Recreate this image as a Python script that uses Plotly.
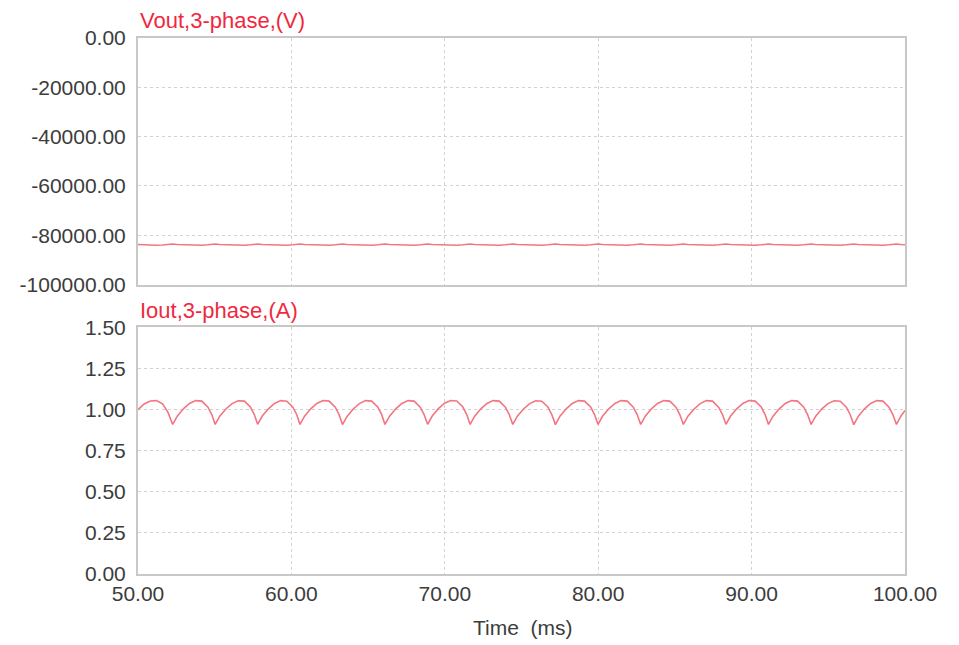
import plotly.graph_objects as go
from plotly.subplots import make_subplots

# ---- data ----
time_ms = [
    50.00, 50.40, 50.80, 51.20, 51.60, 51.95,
    52.26, 52.56, 52.96, 53.36, 53.76, 54.16, 54.56, 54.81,
    55.03, 55.33, 55.73, 56.13, 56.53, 56.93, 57.33, 57.58,
    57.80, 58.10, 58.50, 58.90, 59.30, 59.70, 60.10, 60.35,
    60.56, 60.86, 61.26, 61.66, 62.06, 62.46, 62.86, 63.11,
    63.33, 63.63, 64.03, 64.43, 64.83, 65.23, 65.63, 65.88,
    66.10, 66.40, 66.80, 67.20, 67.60, 68.00, 68.40, 68.65,
    68.88, 69.18, 69.58, 69.98, 70.38, 70.78, 71.18, 71.43,
    71.65, 71.95, 72.35, 72.75, 73.15, 73.55, 73.95, 74.20,
    74.43, 74.73, 75.13, 75.53, 75.93, 76.33, 76.73, 76.98,
    77.21, 77.51, 77.91, 78.31, 78.71, 79.11, 79.51, 79.76,
    79.99, 80.29, 80.69, 81.09, 81.49, 81.89, 82.29, 82.54,
    82.77, 83.07, 83.47, 83.87, 84.27, 84.67, 85.07, 85.32,
    85.55, 85.85, 86.25, 86.65, 87.05, 87.45, 87.85, 88.10,
    88.33, 88.63, 89.03, 89.43, 89.83, 90.23, 90.63, 90.88,
    91.10, 91.40, 91.80, 92.20, 92.60, 93.00, 93.40, 93.65,
    93.88, 94.18, 94.58, 94.98, 95.38, 95.78, 96.18, 96.43,
    96.66, 96.96, 97.36, 97.76, 98.16, 98.56, 98.96, 99.21,
    99.44, 99.74, 100.00,
]

iout_a = [
    1.000, 1.035, 1.053, 1.055, 1.035, 0.985,
    0.910, 0.960, 1.005, 1.038, 1.055, 1.052, 1.015, 0.970,
    0.910, 0.960, 1.004, 1.037, 1.054, 1.052, 1.016, 0.970,
    0.911, 0.961, 1.005, 1.038, 1.055, 1.051, 1.015, 0.969,
    0.910, 0.960, 1.005, 1.038, 1.056, 1.052, 1.015, 0.970,
    0.909, 0.959, 1.004, 1.037, 1.055, 1.052, 1.016, 0.971,
    0.910, 0.960, 1.005, 1.038, 1.055, 1.052, 1.015, 0.970,
    0.911, 0.961, 1.006, 1.039, 1.056, 1.053, 1.016, 0.970,
    0.910, 0.960, 1.005, 1.038, 1.055, 1.052, 1.015, 0.970,
    0.910, 0.960, 1.004, 1.037, 1.054, 1.051, 1.015, 0.969,
    0.909, 0.960, 1.005, 1.038, 1.055, 1.052, 1.016, 0.970,
    0.910, 0.961, 1.005, 1.038, 1.055, 1.052, 1.015, 0.970,
    0.910, 0.960, 1.005, 1.038, 1.055, 1.052, 1.015, 0.970,
    0.910, 0.960, 1.004, 1.037, 1.055, 1.052, 1.015, 0.970,
    0.911, 0.961, 1.005, 1.038, 1.056, 1.052, 1.016, 0.970,
    0.910, 0.960, 1.005, 1.038, 1.055, 1.052, 1.015, 0.970,
    0.910, 0.960, 1.005, 1.037, 1.054, 1.051, 1.015, 0.969,
    0.909, 0.960, 1.005, 1.038, 1.055, 1.052, 1.015, 0.970,
    0.910, 0.962, 0.995,
]

vout_v = [
    -83800, -83950, -84050, -84100, -84000, -83800,
    -83600, -83750, -83900, -84050, -84100, -84050, -83900, -83750,
    -83600, -83750, -83900, -84050, -84100, -84050, -83900, -83750,
    -83600, -83750, -83900, -84050, -84100, -84050, -83900, -83750,
    -83600, -83750, -83900, -84050, -84100, -84050, -83900, -83750,
    -83600, -83750, -83900, -84050, -84100, -84050, -83900, -83750,
    -83600, -83750, -83900, -84050, -84100, -84050, -83900, -83750,
    -83600, -83750, -83900, -84050, -84100, -84050, -83900, -83750,
    -83600, -83750, -83900, -84050, -84100, -84050, -83900, -83750,
    -83600, -83750, -83900, -84050, -84100, -84050, -83900, -83750,
    -83600, -83750, -83900, -84050, -84100, -84050, -83900, -83750,
    -83600, -83750, -83900, -84050, -84100, -84050, -83900, -83750,
    -83600, -83750, -83900, -84050, -84100, -84050, -83900, -83750,
    -83600, -83750, -83900, -84050, -84100, -84050, -83900, -83750,
    -83600, -83750, -83900, -84050, -84100, -84050, -83900, -83750,
    -83600, -83750, -83900, -84050, -84100, -84050, -83900, -83750,
    -83600, -83750, -83900, -84050, -84100, -84050, -83900, -83750,
    -83600, -83750, -83900, -84050, -84100, -84050, -83900, -83750,
    -83600, -83800, -83900,
]

x_ticks = [50, 60, 70, 80, 90, 100]
x_labels = ["50.00", "60.00", "70.00", "80.00", "90.00", "100.00"]
v_ticks = [0, -20000, -40000, -60000, -80000, -100000]
v_labels = ["0.00", "-20000.00", "-40000.00", "-60000.00", "-80000.00", "-100000.00"]
i_ticks = [0, 0.25, 0.5, 0.75, 1.0, 1.25, 1.5]
i_labels = ["0.00", "0.25", "0.50", "0.75", "1.00", "1.25", "1.50"]

FONT = "Liberation Sans, Arial, sans-serif"
LINE_COL = "#f27682"
TITLE_COL = "#f0283f"
FRAME_COL = "#c8c8c8"
GRID_COL = "#d2d2d2"
TICK_COL = "#3c3c3c"

fig = make_subplots(rows=2, cols=1, shared_xaxes=True, vertical_spacing=0.0802)

fig.add_trace(go.Scatter(x=time_ms, y=vout_v, mode="lines",
                         line=dict(color=LINE_COL, width=1.5),
                         showlegend=False), row=1, col=1)
fig.add_trace(go.Scatter(x=time_ms, y=iout_a, mode="lines",
                         line=dict(color=LINE_COL, width=1.6),
                         showlegend=False), row=2, col=1)

axis_common = dict(showline=True, mirror=True, linecolor=FRAME_COL, linewidth=2,
                   showgrid=True, gridcolor=GRID_COL, griddash="dot", gridwidth=1,
                   zeroline=False, ticks="", automargin=False,
                   tickfont=dict(family=FONT, size=21, color=TICK_COL))

fig.update_xaxes(range=[50, 100], tickvals=x_ticks, ticktext=x_labels,
                 ticklabelstandoff=0, **axis_common)
fig.update_xaxes(showticklabels=False, row=1, col=1)
fig.update_xaxes(showticklabels=True, row=2, col=1)
fig.update_yaxes(range=[-100000, 0], tickvals=v_ticks, ticktext=v_labels,
                 ticklabelstandoff=6, row=1, col=1, **axis_common)
fig.update_yaxes(range=[0, 1.5], tickvals=i_ticks, ticktext=i_labels,
                 ticklabelstandoff=6, row=2, col=1, **axis_common)

# page body has an 8px margin, so the figure is sized to fit within the window
fig.update_layout(
    width=951, height=637,
    margin=dict(l=130, r=54, t=30, b=71, autoexpand=False),
    paper_bgcolor="white", plot_bgcolor="white",
    font=dict(family=FONT, size=21, color=TICK_COL),
    annotations=[
        dict(text="Vout,3-phase,(V)", x=0, y=1.032, xref="paper", yref="paper",
             xanchor="left", yanchor="middle", showarrow=False,
             font=dict(family=FONT, size=22, color=TITLE_COL)),
        dict(text="Iout,3-phase,(A)", x=0, y=0.4925, xref="paper", yref="paper",
             xanchor="left", yanchor="middle", showarrow=False,
             font=dict(family=FONT, size=22, color=TITLE_COL)),
        dict(text="Time\u00a0 (ms)", x=0.502, y=-0.1007, xref="paper", yref="paper",
             xanchor="center", yanchor="middle", showarrow=False,
             font=dict(family=FONT, size=21, color=TICK_COL)),
    ],
)

fig.write_html("out.html")
